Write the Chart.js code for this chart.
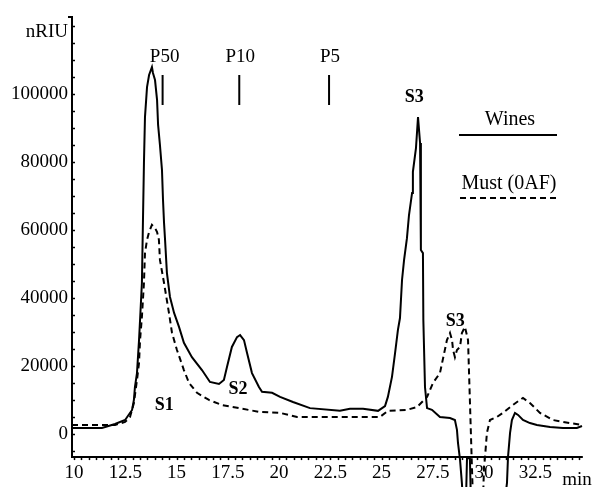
<!DOCTYPE html>
<html>
<head>
<meta charset="utf-8">
<script src="https://cdn.jsdelivr.net/npm/chart.js@4/dist/chart.umd.min.js"></script>
<style>
html,body{margin:0;padding:0;background:#fff;}
</style>
</head>
<body>
<canvas id="grafico" width="596" height="487"></canvas>
<script>
// ---------------------------------------
// Chromatogram data: Wines vs Must (0AF)
// ---------------------------------------

let winesX = [9.9, 11.36, 12.0, 12.49, 12.83, 12.92, 12.97, 13.07, 13.17, 13.22, 13.31, 13.36, 13.41, 13.46, 13.56, 13.66, 13.8,
  13.85, 13.95, 14.05, 14.1, 14.19, 14.29, 14.34, 14.39, 14.44, 14.53, 14.68, 14.88, 15.12, 15.36, 15.75, 16.24, 16.63, 17.07,
  17.31, 17.46, 17.7, 17.95, 18.1, 18.29, 18.44, 18.68, 19.02, 19.17, 19.66, 20.05, 20.68, 21.51, 22.97, 23.46, 24.1, 24.83,
  25.17, 25.31, 25.51, 25.66, 25.8, 25.9, 26.0, 26.1, 26.24, 26.34, 26.49, 26.53, 26.68, 26.78, 26.88, 26.92, 27.02, 27.04,
  27.12, 27.22, 27.46, 27.85, 28.34, 28.58, 28.68, 28.73, 28.83, 28.92, 28.97, 29.12, 29.17, 29.31, 29.36, 31.02, 31.12,
  31.17, 31.27, 31.36, 31.51, 31.66, 31.9, 32.24, 32.58, 33.22, 33.85, 34.53, 34.78];
let winesY = [1760, 1760, 2940, 4120, 7060, 10000, 13800, 17900, 27600, 33500, 44400, 62100, 79700, 93200, 102000, 105600, 107900,
  106200, 104100, 98200, 90900, 85000, 77600, 68800, 62100, 57100, 47400, 40300, 35600, 31500, 26800, 22600, 18800, 15300, 14700,
  15900, 19700, 25600, 28500, 29100, 27600, 23800, 17900, 13800, 12400, 12100, 10900, 9400, 7600, 6800, 7400, 7400, 6800,
  8200, 10900, 16800, 23800, 30600, 34100, 45300, 51200, 57600, 64400, 70900, 77100, 84100, 93200, 85600, 54100, 53200, 33500,
  13800, 7600, 7100, 5000, 4700, 4100, 1200, -2650, -7650, -14400, -19400, -19400, -7060, -7060, -19400, -19400, -14400,
  -6800, 300, 4100, 6200, 5600, 4100, 3200, 2650, 2060, 1760, 1760, 2350];

let mustX = [9.9, 12.0, 12.49, 12.73, 12.92, 13.07, 13.17, 13.22, 13.31, 13.41, 13.46, 13.56, 13.66, 13.8, 13.95, 14.05, 14.14,
  14.19, 14.39, 14.63, 14.78, 15.02, 15.36, 15.61, 16.0, 16.58, 17.22, 18.05, 19.02, 20.05, 20.88, 22.34, 24.92, 25.31, 26.24,
  26.73, 27.22, 27.51, 27.85, 28.19, 28.34, 28.44, 28.49, 28.58, 28.68, 28.83, 28.92, 29.07, 29.22, 29.31, 29.41, 29.46, 29.95,
  30.0, 30.05, 30.14, 30.29, 30.63, 30.92, 31.27, 31.61, 31.9, 32.24, 32.73, 33.36, 34.19, 34.83];
let mustY = [2650, 2650, 3530, 5000, 9100, 15900, 20900, 27600, 34400, 44400, 53200, 57100, 59400, 61500, 60600, 59400, 57100,
  51200, 44400, 35600, 29700, 24700, 18800, 15000, 12100, 10000, 8500, 7600, 6500, 6200, 5000, 5000, 5000, 6800, 7100,
  7900, 10900, 15000, 17900, 27600, 29700, 27600, 24700, 22600, 24700, 25600, 29700, 31500, 27600, 10000, -9700, -19400, -19400,
  -9700, -6800, 300, 4100, 5000, 6200, 7900, 9400, 10600, 9100, 6200, 4100, 3200, 2650];

let xTicks = [10, 12.5, 15, 17.5, 20, 22.5, 25, 27.5, 30, 32.5];
let yTicks = [0, 20000, 40000, 60000, 80000, 100000];

// marker positions (P50, P10, P5) and peak labels
let markerNames = ["P50", "P10", "P5"];
let markerTimes = [14.32, 18.06, 22.44];
let peakNames = ["S1", "S2", "S3", "S3"];
let peakX = [14.4, 18.0, 26.6, 28.6];
let peakY = [8500, 13000, 99000, 33000];

let axisY = -6800;
let fonte = '"Liberation Serif", "Times New Roman", serif';

function pontos(xs, ys){
  return xs.map((v, i) => ({x: v, y: ys[i]}));
}

// ---------------------------------------
// Axes, ticks, annotations, legend
// ---------------------------------------

const decor = {
  id: "decor",
  afterDraw(chart){
    let ctx = chart.ctx;
    let sx = chart.scales.x, sy = chart.scales.y;
    let x0 = sx.getPixelForValue(9.9);
    let x1 = sx.getPixelForValue(34.82);
    let yAx = sy.getPixelForValue(axisY);
    let yTop = chart.chartArea.top;

    ctx.save();
    ctx.strokeStyle = "#000";
    ctx.fillStyle = "#000";
    ctx.lineWidth = 2;

    // axis lines
    ctx.beginPath();
    ctx.moveTo(x0 - 4, yTop);
    ctx.lineTo(x0, yTop);
    ctx.lineTo(x0, yAx);
    ctx.lineTo(x1, yAx);
    ctx.stroke();

    // y minor ticks
    ctx.lineWidth = 1.5;
    for(let v = -5000; v <= 120000; v += 5000){
      let p = Math.round(sy.getPixelForValue(v)) + 0.5;
      ctx.beginPath();
      ctx.moveTo(x0, p);
      ctx.lineTo(x0 + 3, p);
      ctx.stroke();
    }

    // x minor ticks
    for(let v = 10; v <= 34.7; v += 2.5 / 7){
      let p = Math.round(sx.getPixelForValue(v)) + 0.5;
      ctx.beginPath();
      ctx.moveTo(p, yAx);
      ctx.lineTo(p, yAx + 3);
      ctx.stroke();
    }

    // P markers
    ctx.lineWidth = 2;
    ctx.font = "19px " + fonte;
    ctx.textAlign = "center";
    ctx.textBaseline = "middle";
    markerTimes.forEach((t, i) => {
      let p = sx.getPixelForValue(t);
      ctx.beginPath();
      ctx.moveTo(p, yTop + 58);
      ctx.lineTo(p, yTop + 88);
      ctx.stroke();
      let lx = i == 0 ? p + 2 : p + 1;
      ctx.fillText(markerNames[i], lx, yTop + 40);
    });

    // peak labels
    ctx.font = "bold 18px " + fonte;
    peakNames.forEach((n, i) => {
      ctx.fillText(n, sx.getPixelForValue(peakX[i]), sy.getPixelForValue(peakY[i]));
    });

    // y title and x unit
    ctx.font = "19px " + fonte;
    ctx.textAlign = "right";
    ctx.fillText("nRIU", 68, 32);
    ctx.textAlign = "center";
    ctx.fillText("min", 577, 480);

    // legend
    let ds = chart.data.datasets;
    ctx.font = "20px " + fonte;
    ctx.fillText(ds[0].label, 510, 120);
    ctx.fillText(ds[1].label, 509, 184);
    ctx.lineWidth = 2;
    ctx.beginPath();
    ctx.moveTo(459, 135);
    ctx.lineTo(557, 135);
    ctx.stroke();
    ctx.setLineDash([6, 4]);
    ctx.beginPath();
    ctx.moveTo(460, 198);
    ctx.lineTo(557, 198);
    ctx.stroke();

    ctx.restore();
  }
};

new Chart(
  document.getElementById("grafico"),
  {
    type: "line",
    data: {
      datasets: [
        {
          label: "Wines",
          data: pontos(winesX, winesY),
          borderColor: "#000",
          borderWidth: 2,
          pointRadius: 0,
          tension: 0
        },
        {
          label: "Must (0AF)",
          data: pontos(mustX, mustY),
          borderColor: "#000",
          borderWidth: 2,
          borderDash: [6, 4],
          pointRadius: 0,
          tension: 0
        }
      ]
    },
    options: {
      responsive: false,
      animation: false,
      layout: {padding: {top: 17, right: 6, bottom: 0, left: 0}},
      plugins: {legend: {display: false}, tooltip: {enabled: false}},
      scales: {
        x: {
          type: "linear",
          min: 9.9,
          max: 35.17,
          position: {y: axisY},
          grid: {display: false, drawTicks: false},
          border: {display: false},
          afterBuildTicks: s => { s.ticks = xTicks.map(v => ({value: v})); },
          afterFit: s => { s.paddingLeft = 0; s.paddingRight = 0; },
          ticks: {
            autoSkip: false,
            maxRotation: 0,
            padding: 5,
            color: "#000",
            font: {family: fonte, size: 19},
            callback: v => String(v)
          }
        },
        y: {
          type: "linear",
          min: -15600,
          max: 122650,
          position: "left",
          grid: {display: false, drawTicks: false},
          border: {display: false},
          afterBuildTicks: s => { s.ticks = yTicks.map(v => ({value: v})); },
          afterFit: s => { s.width = 72; s.paddingTop = 0; s.paddingBottom = 0; },
          ticks: {
            padding: 4,
            color: "#000",
            font: {family: fonte, size: 19},
            callback: v => String(v)
          }
        }
      }
    },
    plugins: [decor]
  }
);
</script>
</body>
</html>
